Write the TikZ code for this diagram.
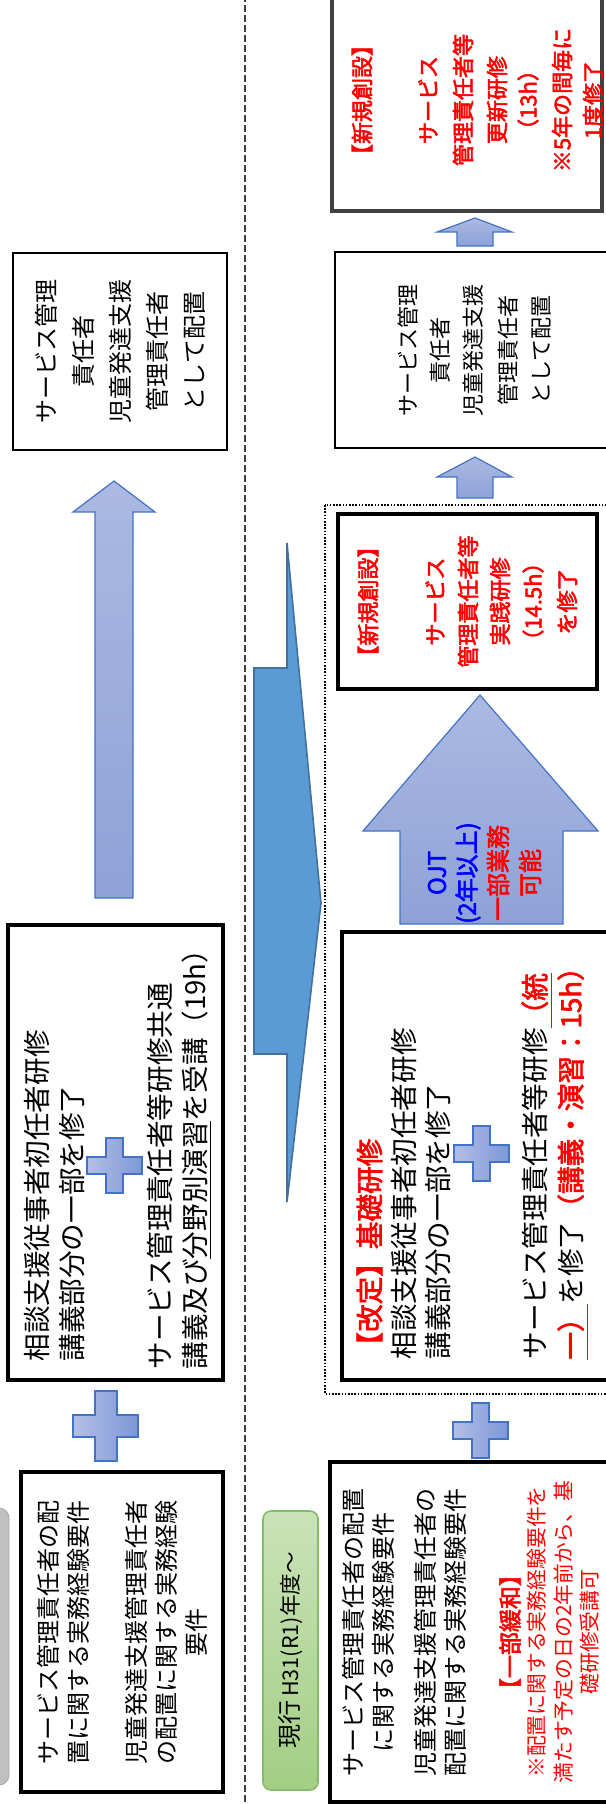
\documentclass[tikz,border=0pt]{standalone}
\usepackage{fontspec}
\usepackage{graphicx}
\setmainfont{Noto Sans CJK JP}
\newfontfamily\boldjp{Noto Sans CJK JP}[FakeBold=2.5]
\definecolor{pluslight}{HTML}{B3BFE6}
\definecolor{plusdark}{HTML}{7D97D6}
\definecolor{arrowlight}{HTML}{ABB9E2}
\definecolor{arrowdark}{HTML}{8EA2D8}
\definecolor{arrowline}{HTML}{4472C4}
\definecolor{chevron}{HTML}{5B9BD5}
\definecolor{chevronline}{HTML}{41719C}
\definecolor{greenlight}{HTML}{C9E3B8}
\definecolor{greendark}{HTML}{A3CE84}
\definecolor{greenline}{HTML}{86BC68}
\definecolor{tabgray}{HTML}{C0C0C0}
\begin{document}
\begin{tikzpicture}[x=0.5pt,y=-0.5pt,
  heavybox/.style={draw,line width=2pt,rotate=90,inner sep=0pt},
  lightbox/.style={draw,line width=1.2pt,rotate=90,inner sep=0pt},
  txt/.style={rotate=90,inner sep=0pt,transform shape},
  plusfill/.style={draw=arrowline,line width=0.6pt,left color=pluslight,right color=plusdark},
  uparrow/.style={draw=arrowline,line width=0.6pt,top color=arrowlight,bottom color=arrowdark}]
\useasboundingbox (0,0) rectangle (605,1804);

\draw[line width=1pt,black!75,dash pattern=on 3.5pt off 1.5pt] (245,-5) -- (245,1810);
\draw[fill=tabgray,draw=black!35,rounded corners=5pt] (-20,1508) rectangle (9,1785);
\draw[fill=chevron,draw=chevronline,line width=0.8pt] (254,668) -- (287,668) -- (287,543) -- (321,903) -- (287,1202) -- (287,1054) -- (254,1054) -- cycle;
\draw[line width=1.3pt,dash pattern=on 0.8pt off 0.8pt] (325,505) rectangle (620,1394);

\node[rotate=90,inner sep=0pt,draw=greenline,line width=0.8pt,rounded corners=4pt,top color=greenlight,bottom color=greendark,minimum width=139.5pt,minimum height=27.5pt,font=\fontsize{12}{14}\selectfont] (now) at (290.5,1650.5) {現行\,\scalebox{0.9}{H31(R1)年度～}};

\node[heavybox,minimum width=160pt,minimum height=101pt,align=center,font=\fontsize{12}{15}\selectfont] (reqold) at (122,1632) {サービス管理責任者の配\\置に関する実務経験要件\\[14pt]児童発達支援管理責任者\\の配置に関する実務経験\\要件};
\node[heavybox,minimum width=227.5pt,minimum height=107.5pt] (trainold) at (115.5,1152.5) {};
\node[txt,scale=1.15,anchor=west,align=left,font=\fontsize{12}{15.2}\selectfont] (trainoldtop) at (54.5,1362) {相談支援従事者初任者研修\\講義部分の一部を修了};
\node[txt,scale=1.15,anchor=west,align=left,font=\fontsize{12}{15.2}\selectfont] (trainoldbot) at (179.5,1370) {サービス管理責任者等研修共通\\講義及び\underline{分野別演習}を受講（19h）};
\node[lightbox,minimum width=98.5pt,minimum height=107pt,align=center,font=\fontsize{12}{18.5}\selectfont] (assignold) at (120,351.5) {サービス管理\\責任者\\児童発達支援\\管理責任者\\として配置};

\node[heavybox,minimum width=170pt,minimum height=141.5pt] (reqnew) at (471.5,1632) {};
\node[txt,align=center,font=\fontsize{12}{15}\selectfont] (reqnewtxt) at (404,1632) {サービス管理責任者の配置\\に関する実務経験要件\\[6pt]児童発達支援管理責任者の\\配置に関する実務経験要件};
\node[txt,font=\fontsize{11.5}{13}\selectfont] (relaxtitle) at (510,1632) {{\color{red}\boldjp 【一部緩和】}};
\node[txt,scale=0.867,align=center,text=red,font=\fontsize{12}{15.3}\selectfont] (relaxnote) at (563.5,1632) {※配置に関する実務経験要件を\\満たす予定の日の2年前から、基\\礎研修受講可};

\node[heavybox,minimum width=224pt,minimum height=135pt] (basic) at (477,1156) {};
\node[txt,scale=1.15,anchor=west,align=left,font=\fontsize{12}{14.8}\selectfont] (basictop) at (403.5,1360) {{\color{red}\boldjp【改定】基礎研修}\\相談支援従事者初任者研修\\講義部分の一部を修了};
\node[txt,scale=1.15,anchor=west,align=left,font=\fontsize{12}{15.6}\selectfont] (basicbot) at (555,1360) {サービス管理責任者等研修{\color{red}\boldjp\underline{（統}}\\{\color{red}\boldjp\underline{一）}}を修了{\color{red}\boldjp（講義・演習：15h）}};

\node[heavybox,minimum width=87.5pt,minimum height=129.5pt] (practice) at (467.5,601.5) {};
\foreach \lx/\lt in {368/【新規創設】,435/サービス,468/管理責任者等,500/実践研修,533/（14.5h）,567/を修了}
  \node[txt,font=\fontsize{11}{13}\selectfont] (practice-\lx) at (\lx,601.5) {{\color{red}\boldjp \lt}};
\node[lightbox,line width=1pt,minimum width=98pt,minimum height=140pt] (assignnew) at (475,350) {};
\foreach \lx/\lt in {408/サービス管理,440/責任者,473/児童発達支援,508/管理責任者,542/として配置}
  \node[txt,font=\fontsize{11}{13}\selectfont] (assignnew-\lx) at (\lx,350) {\lt};
\node[heavybox,draw=black!75,minimum width=111pt,minimum height=135pt] (renew) at (467,100) {};
\foreach \lx/\lt in {362/【新規創設】,428/サービス,463/管理責任者等,497/更新研修,528/（13h）,562/※5年の間毎に,593/1度修了}
  \node[txt,font=\fontsize{11}{13}\selectfont] (renew-\lx) at (\lx,100) {{\color{red}\boldjp \lt}};

\draw[uparrow] (114,481) -- (155,512) -- (133,512) -- (133,898) -- (95,898) -- (95,512) -- (73,512) -- cycle;
\draw[uparrow] (475,218) -- (512,232) -- (493,232) -- (493,246) -- (457,246) -- (457,232) -- (437,232) -- cycle;
\draw[uparrow] (475,457) -- (512,477) -- (493,477) -- (493,498) -- (457,498) -- (457,477) -- (437,477) -- cycle;
\draw[uparrow] (480,695) -- (598,831) -- (563,831) -- (563,924) -- (400,924) -- (400,831) -- (363,831) -- cycle;
\foreach \lx/\lc/\lt in {437/blue/OJT,468/blue/(2年以上),498/red/一部業務,530/red/可能}
  \node[txt,font=\fontsize{12}{14}\selectfont] (ojt-\lx) at (\lx,873) {{\color{\lc}\boldjp \lt}};

\draw[plusfill] (95,1391) -- ++(22,0) -- ++(0,24) -- ++(21,0) -- ++(0,22) -- ++(-21,0) -- ++(0,24) -- ++(-22,0) -- ++(0,-24) -- ++(-22,0) -- ++(0,-22) -- ++(22,0) -- cycle;
\foreach \px/\py in {87/1138,454/1126,453/1403}
  \draw[plusfill] (\px+19,\py) -- ++(17,0) -- ++(0,19) -- ++(19,0) -- ++(0,17) -- ++(-19,0) -- ++(0,19) -- ++(-17,0) -- ++(0,-19) -- ++(-19,0) -- ++(0,-17) -- ++(19,0) -- cycle;
\end{tikzpicture}
\end{document}
